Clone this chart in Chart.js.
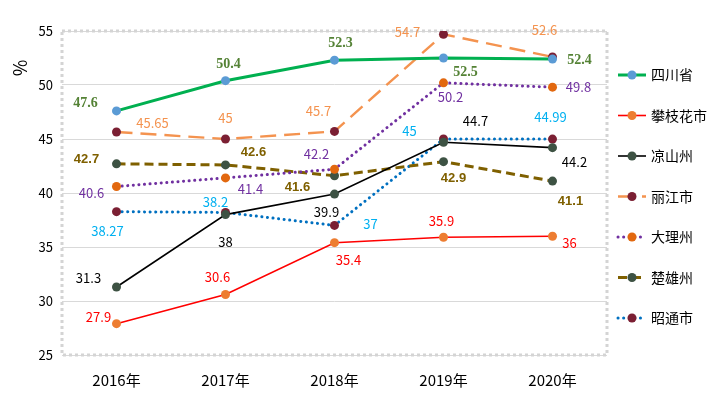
<!DOCTYPE html>
<html lang="zh">
<head>
  <meta charset="UTF-8">
  <title>各地区指标对比</title>
  <style>
    body { margin: 0; background: #fff; }
    #chart { display: block; }
  </style>
  <script src="https://cdn.jsdelivr.net/npm/chart.js"></script>
</head>
<body>
  <canvas id="chart" width="723" height="393"></canvas>
  <script>
    // 数据
    const years = ['2016年', '2017年', '2018年', '2019年', '2020年'];
    const yTicks = [25, 30, 35, 40, 45, 50, 55];
    const names = ['四川省', '攀枝花市', '凉山州', '丽江市', '大理州', '楚雄州', '昭通市'];
    const sichuan = [47.6, 50.4, 52.3, 52.5, 52.4];
    const panzhihua = [27.9, 30.6, 35.4, 35.9, 36];
    const liangshan = [31.3, 38, 39.9, 44.7, 44.2];
    const lijiang = [45.65, 45, 45.7, 54.7, 52.6];
    const dali = [40.6, 41.4, 42.2, 50.2, 49.8];
    const chuxiong = [42.7, 42.6, 41.6, 42.9, 41.1];
    const zhaotong = [38.27, 38.2, 37, 45, 44.99];

    const cjk = '"Noto Sans CJK SC", "Noto Sans", sans-serif';

    // 样式: 线色, 点色, 线宽, 虚线, 标签色, 标签字体, 标签偏移
    const styles = [
      { line: '#00B050', dot: '#5B9BD5', w: 3, dash: [], cap: 'butt', lab: '#548235', font: 'bold 14px "Liberation Serif", serif',
        off: [[-31, -8], [3, -16], [6, -17], [22, 14], [27, 1]] },
      { line: '#FF0000', dot: '#ED7D31', w: 1.6, dash: [], cap: 'butt', lab: '#FF0000', font: '13px ' + cjk,
        off: [[-18, -7], [-8, -17], [14, 17], [-2, -16], [17, 7]] },
      { line: '#000000', dot: '#3D5243', w: 1.6, dash: [], cap: 'butt', lab: '#000000', font: '13px ' + cjk,
        off: [[-28, -9], [0, 27], [-8, 18], [32, -21], [22, 14]] },
      { line: '#F4934F', dot: '#7B1F33', w: 2.4, dash: [16, 8], cap: 'butt', lab: '#F4934F', font: '13px ' + cjk,
        off: [[36, -9], [0, -21], [-16, -20], [-36, -2], [-8, -27]] },
      { line: '#7030A0', dot: '#E2680F', w: 3, dash: [0.1, 5.5], cap: 'round', lab: '#7030A0', font: '13px ' + cjk,
        off: [[-25, 7], [25, 11], [-18, -15], [7, 14], [26, 0]] },
      { line: '#7F6000', dot: '#3D5243', w: 3, dash: [9, 5], cap: 'butt', lab: '#7F6000', font: 'bold 13px "Liberation Sans", sans-serif',
        off: [[-30, -4], [28, -12], [-37, 12], [10, 17], [18, 20]] },
      { line: '#0070C0', dot: '#7B1F33', w: 3, dash: [0.1, 5.5], cap: 'round', lab: '#00B0F0', font: '13px ' + cjk,
        off: [[-9, 19], [-10, -10], [36, -1], [-34, -8], [-2, -22]] }
    ];
    const series = [sichuan, panzhihua, liangshan, lijiang, dali, chuxiong, zhaotong];

    const datasets = series.map((d, i) => ({
      label: names[i],
      data: d,
      borderColor: styles[i].line,
      borderWidth: styles[i].w,
      borderDash: styles[i].dash,
      borderCapStyle: styles[i].cap,
      backgroundColor: styles[i].dot,
      pointBackgroundColor: styles[i].dot,
      pointBorderColor: styles[i].dot,
      pointRadius: 4.5,
      pointBorderWidth: 0,
      tension: 0,
      fill: false
    }));

    const extras = {
      id: 'extras',
      beforeDatasetsDraw(chart) {
        const a = chart.chartArea;
        const c = chart.ctx;
        c.save();
        c.strokeStyle = '#D4D4D4';
        c.lineWidth = 3;
        c.setLineDash([3, 3]);
        c.strokeRect(a.left, a.top, a.right - a.left, a.bottom - a.top);
        c.restore();
      },
      afterDatasetsDraw(chart) {
        const c = chart.ctx;
        c.save();
        c.textAlign = 'center';
        c.textBaseline = 'middle';
        chart.data.datasets.forEach((ds, i) => {
          const meta = chart.getDatasetMeta(i);
          c.font = styles[i].font;
          c.fillStyle = styles[i].lab;
          meta.data.forEach((pt, j) => {
            const o = styles[i].off[j];
            c.fillText(String(ds.data[j]), pt.x + o[0], pt.y + o[1]);
          });
        });
        // y 轴标题
        c.font = '18px ' + cjk;
        c.fillStyle = '#000';
        c.translate(20, 68);
        c.rotate(-Math.PI / 2);
        c.fillText('%', 0, 0);
        c.restore();
      },
      afterDraw(chart) {
        const c = chart.ctx;
        c.save();
        chart.data.datasets.forEach((ds, i) => {
          const y = 75 + i * 40.5;
          c.beginPath();
          c.strokeStyle = ds.borderColor;
          c.lineWidth = ds.borderWidth;
          c.setLineDash(ds.borderDash);
          c.lineCap = ds.borderCapStyle;
          c.moveTo(618, y);
          c.lineTo(646, y);
          c.stroke();
          c.setLineDash([]);
          c.beginPath();
          c.fillStyle = ds.pointBackgroundColor;
          c.arc(632, y, 4.5, 0, Math.PI * 2);
          c.fill();
          c.font = '14px ' + cjk;
          c.fillStyle = '#000';
          c.textAlign = 'left';
          c.textBaseline = 'middle';
          c.fillText(ds.label, 651, y);
        });
        c.restore();
      }
    };

    new Chart(document.getElementById('chart'), {
      type: 'line',
      data: { labels: years, datasets: datasets },
      plugins: [extras],
      options: {
        responsive: false,
        animation: false,
        layout: { padding: { top: 31, right: 116, left: 0, bottom: 0 } },
        plugins: { legend: { display: false }, tooltip: { enabled: false } },
        scales: {
          x: {
            offset: true,
            grid: { display: false },
            border: { display: false },
            ticks: { color: '#000', font: { family: cjk, size: 15 }, padding: 8 },
            afterFit: s => { s.height = 38; }
          },
          y: {
            min: yTicks[0],
            max: yTicks[yTicks.length - 1],
            afterBuildTicks: s => { s.ticks = yTicks.map(v => ({ value: v })); },
            grid: { color: '#D9D9D9', lineWidth: 1, drawTicks: false },
            border: { display: false },
            ticks: { color: '#000', font: { family: cjk, size: 13 }, padding: 9 },
            afterFit: s => { s.width = 62; }
          }
        }
      }
    });
  </script>
</body>
</html>
